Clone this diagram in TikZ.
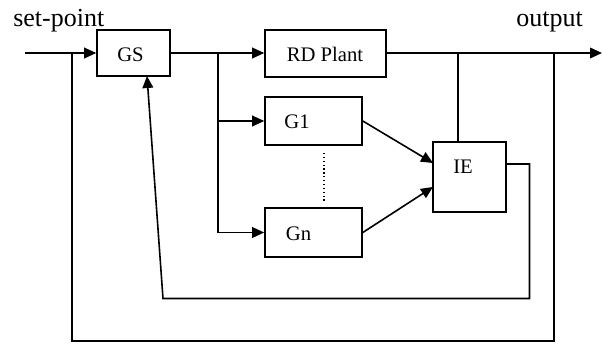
\documentclass[tikz,border=0pt]{standalone}
\usepackage{fontspec}
\setmainfont{Liberation Serif}
\usetikzlibrary{arrows.meta,calc}
\begin{document}
\begin{tikzpicture}[x=0.75pt,y=-0.75pt,
  blk/.style={draw,line width=1.2pt,inner sep=0pt,minimum width=#1},
  wire/.style={line width=1.2pt},
  arr/.style={wire,-{Triangle[length=9pt,width=8pt]}},
  btxt/.style={anchor=base,inner sep=0pt,font=\fontsize{15.5}{18}\selectfont},
  ltxt/.style={inner sep=0pt,font=\fontsize{19.5}{23}\selectfont}]
\useasboundingbox (0,0) rectangle (603,347);
% boxes
\node[blk=73*0.75pt,minimum height=46*0.75pt] (GS) at (133.5,53) {};
\node[blk=121*0.75pt,minimum height=47*0.75pt] (RD) at (325.5,53.5) {};
\node[blk=97*0.75pt,minimum height=48*0.75pt] (G1) at (313.5,121) {};
\node[blk=97*0.75pt,minimum height=49*0.75pt] (Gn) at (313.5,232.5) {};
\node[blk=73*0.75pt,minimum height=70*0.75pt] (IE) at (469.5,177) {};
% texts
\node[btxt] (tGS) at (130.5,61.5) {GS};
\node[btxt] (tRD) at (325,61.5) {RD Plant};
\node[btxt] (tG1) at (297,128) {G1};
\node[btxt] (tGn) at (298.5,240) {Gn};
\node[btxt] (tIE) at (463,173) {IE};
\node[ltxt,anchor=base west] (sp) at (13,26) {set-point};
\node[ltxt,anchor=base east] (op) at (583,26) {output};
% coordinates
\coordinate (in) at (25,53);
\coordinate (j1) at (72,53);
\coordinate (b) at (218,53);
\coordinate (o1) at (458,53);
\coordinate (o2) at (554,53);
\coordinate (oe) at (602,53);
\coordinate (ie1) at (433,163);
\coordinate (ie2) at (433,187);
\coordinate (ieo) at (506,164);
\coordinate (f1) at (529.5,164);
\coordinate (f2) at (529.5,298.5);
\coordinate (f3) at (163,298.5);
\coordinate (gsin) at (147,76);
\coordinate (g2) at (554,341);
\coordinate (g3) at (72,341);
\coordinate (d1) at (324,153);
\coordinate (d2) at (324,202);
% connectors
\draw[arr] (in) -- (GS.west);
\draw[arr] (GS.east) -- (RD.west |- GS.east);
\draw[arr] (b) |- (G1.west);
\draw[arr] (b) |- (Gn.west);
\draw[arr] (RD.east |- oe) -- (oe);
\draw[wire] (o1) -- (o1 |- IE.north);
\draw[arr] (G1.east) -- (ie1);
\draw[arr] (Gn.east) -- (ie2);
\draw[arr] (ieo) -- (f1) -- (f2) -- (f3) -- (gsin);
\draw[wire] (o2) -- (g2) -- (g3) -- (j1);
\draw[line width=0.9pt,dotted] (d1) -- (d2);
\end{tikzpicture}
\end{document}
